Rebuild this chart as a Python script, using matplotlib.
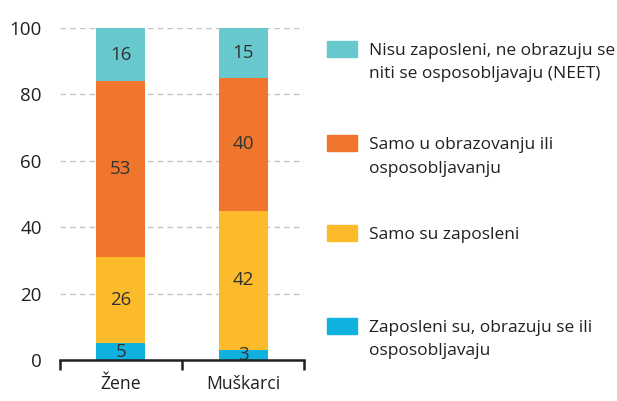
import matplotlib
matplotlib.use("Agg")
import matplotlib.pyplot as plt
from matplotlib.patches import Rectangle
import numpy as np

plt.rcParams["font.family"] = ["Open Sans", "DejaVu Sans"]

categories = ["Žene", "Muškarci"]
# stacked from bottom to top
series_names = [
    "Zaposleni su, obrazuju se ili\nosposobljavaju",
    "Samo su zaposleni",
    "Samo u obrazovanju ili\nosposobljavanju",
    "Nisu zaposleni, ne obrazuju se\nniti se osposobljavaju (NEET)",
]
values = [
    [5, 3],
    [26, 42],
    [53, 40],
    [16, 15],
]
colors = ["#10b0df", "#fbbb2a", "#f0762d", "#67c8cd"]
yticks = [0, 20, 40, 60, 80, 100]

text_col = "#231f20"

fig = plt.figure(figsize=(6.17, 4.01), dpi=100)
ax = fig.add_axes([0.097, 0.102, 0.396, 0.828])

x = np.arange(len(categories))
bottom = np.zeros(len(categories))
for vals, col in zip(values, colors):
    vals = np.array(vals, dtype=float)
    ax.bar(x, vals, bottom=bottom, width=0.4, color=col, zorder=3)
    for xi, b, v in zip(x, bottom, vals):
        ax.text(xi, b + v / 2, f"{v:.0f}", ha="center", va="center",
                fontsize=13.5, color="#333333", zorder=4)
    bottom += vals

ax.set_xlim(-0.5, 1.5)
ax.set_ylim(0, 100)
ax.set_yticks(yticks)
ax.set_xticks(x)
ax.set_xticklabels(categories)
ax.set_xticks([-0.5, 0.5, 1.5], minor=True)
ax.tick_params(axis="x", which="major", length=0, pad=11, labelsize=12.7, labelcolor=text_col)
ax.tick_params(axis="x", which="minor", length=7, width=1.8, color=text_col, direction="out")
ax.tick_params(axis="y", length=0, pad=13, labelsize=13.5, labelcolor=text_col)

for s in ["left", "right", "top"]:
    ax.spines[s].set_visible(False)
ax.spines["bottom"].set_linewidth(1.8)
ax.spines["bottom"].set_color(text_col)
ax.spines["bottom"].set_zorder(5)

ax.grid(axis="y", color="#c4c4c4", linestyle=(0, (4, 3)), linewidth=1, zorder=0)

# legend, top entry first
leg_y = [0.878, 0.643, 0.419, 0.187]
for name, col, yy in zip(series_names[::-1], colors[::-1], leg_y):
    fig.add_artist(Rectangle((0.530, yy - 0.02), 0.049, 0.040, color=col,
                             transform=fig.transFigure))
    fig.text(0.598, yy + 0.016, name, ha="left", va="top", fontsize=12.5,
             color=text_col, linespacing=1.65)

fig.savefig("out.png", dpi=100)
